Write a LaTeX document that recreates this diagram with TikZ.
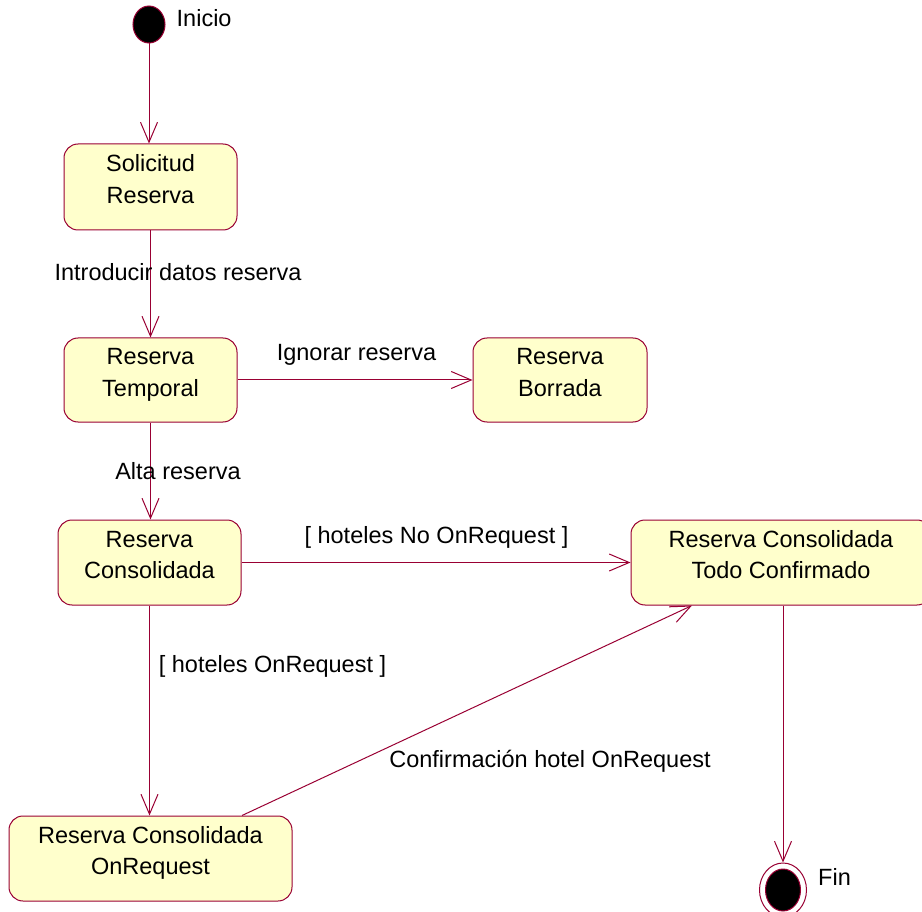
\documentclass[tikz,border=0pt]{standalone}
\usepackage{fontspec}
\setmainfont{Liberation Sans}
\usetikzlibrary{arrows.meta,calc,shapes.geometric}
\definecolor{umlline}{HTML}{990033}
\definecolor{umlfill}{HTML}{FFFFCC}
% two centred lines with fixed struts; extra depth on the second line lifts the text a little
\newcommand\twolines[2]{\rule[-5pt]{0pt}{22pt}#1\\\rule[-16pt]{0pt}{33pt}#2}
\begin{document}
\begin{tikzpicture}[x=1pt,y=-1pt,
  font=\fontsize{23.5}{31.5}\selectfont,
  state/.style={draw=umlline,fill=umlfill,line width=1pt,rounded corners=14pt,align=center,inner sep=0pt},
  trans/.style={draw=umlline,line width=1pt,-{Straight Barb[length=20pt,width=17pt]}},
  lbl/.style={anchor=base,inner sep=0pt},
]
\useasboundingbox (0,0) rectangle (922,912);
\clip (0,0) rectangle (922,912);

% states
\node[state,minimum width=173pt,minimum height=86pt] (sol) at (150.5,187) {\twolines{Solicitud}{Reserva}};
\node[state,minimum width=173pt,minimum height=84pt] (tmp) at (150.5,380) {\twolines{Reserva}{Temporal}};
\node[state,minimum width=174pt,minimum height=84pt] (bor) at (560,380) {\twolines{Reserva}{Borrada}};
\node[state,minimum width=183pt,minimum height=85pt] (con) at (149.5,562.5) {\twolines{Reserva}{Consolidada}};
\node[state,minimum width=300pt,minimum height=85pt] (tod) at (781,562.5) {\twolines{Reserva Consolidada}{Todo Confirmado}};
\node[state,minimum width=283pt,minimum height=85pt] (onr) at (150.5,858.5) {\twolines{Reserva Consolidada}{OnRequest}};

% initial and final pseudo-states
\node[ellipse,draw=umlline,fill=black,line width=1pt,minimum width=32pt,minimum height=37pt,inner sep=0pt] (ini) at (149,24.5) {};
\node[lbl,anchor=base west] (inil) at (176.5,26.7) {Inicio};
\node[ellipse,draw=umlline,fill=white,line width=1pt,minimum width=47pt,minimum height=54pt,inner sep=0pt] (fin) at (783,890) {};
\node[ellipse,draw=umlline,fill=black,line width=1pt,minimum width=35pt,minimum height=42pt,inner sep=0pt] (finc) at (fin.center) {};
\node[lbl,anchor=base west] (finl) at (818,885) {Fin};

% transitions
\draw[trans] (ini.south) -- (ini.south |- sol.north);
\draw[trans] (sol) -- (tmp);
\draw[trans] (tmp) -- (bor);
\draw[trans] (tmp.south) -- (tmp.south |- con.north);
\draw[trans] (con) -- (tod);
\draw[trans] (con.south) -- (con.south |- onr.north);
\draw[trans] ($(onr.north)+(91.5,0)$) -- ($(tod.south)+(-89,0)$);
\draw[trans] (tod.south -| fin.north) -- (fin.north);

% transition labels
\node[lbl] (l1) at (178,280.4) {Introducir datos reserva};
\node[lbl] (l2) at (356.5,360) {Ignorar reserva};
\node[lbl] (l3) at (178,479.4) {Alta reserva};
\node[lbl] (l4) at (436.5,543.4) {[ hoteles No OnRequest ]};
\node[lbl] (l5) at (272.5,672.4) {[ hoteles OnRequest ]};
\node[lbl] (l6) at (550,767.4) {Confirmación hotel OnRequest};
\end{tikzpicture}
\end{document}
